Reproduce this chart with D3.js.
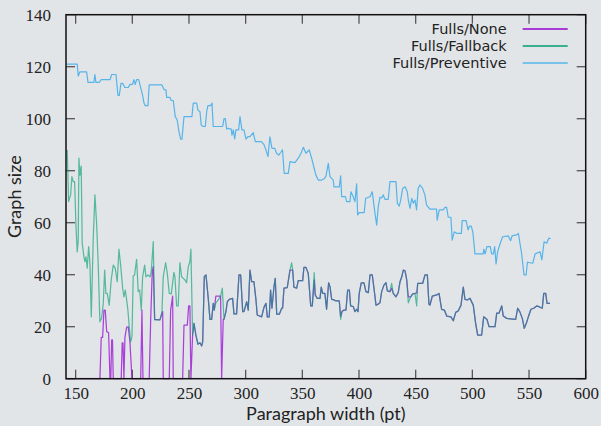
<!DOCTYPE html>
<html><head><meta charset="utf-8">
<script src="https://cdn.jsdelivr.net/npm/d3@7"></script>
<style>
html,body{margin:0;padding:0;background:#e2e5e8;}
svg{display:block;}
</style></head>
<body>
<svg id="chart" width="601" height="426"></svg>
<script>
// ---- data ----
const xDomain = [141.5, 600];
const yDomain = [0, 140];
const xTicks = [150, 200, 250, 300, 350, 400, 450, 500, 550, 600];
const yTicks = [0, 20, 40, 60, 80, 100, 120, 140];
const seriesNames = ["Fulls/None", "Fulls/Fallback", "Fulls/Preventive"];

const nonePts = [
[142,0],[171.4,0],[172.6,15.9],[173.8,15.9],[175,26.4],[176.1,26.4],[177.4,18.1],[179.1,17.7],[180.3,0],[181,0],[181.8,14.9],[182.5,14.9],[183.2,0],
[190.2,0],[191.1,13.8],[191.8,13.8],[192.6,0],[193.5,15.9],[195,19.8],[196.4,20],[197.9,14.2],[199.7,0],[207.4,0],[208.5,26.4],[209.4,0],[214.9,0],
[216.2,22.6],[217.6,41.2],[218.5,43.1],[219.7,22.8],[224.4,22.6],[226.1,25.2],[226.8,25.8],[227.3,0],[232.6,0],[233.8,26.4],[235.6,31.8],[236.1,0],
[244.4,0],[245.6,20.6],[248.5,20.6],[249.7,28],[250.8,28],[251.7,0],[253.2,16.8],[254.4,21.3],[256.1,16.8],[257.9,13.3],[259.7,13.8],[261.2,12.6],
[262.1,14.2],[263.5,39.2],[265,39.9],[267,30.9],[268.5,22.8],[270,22.8],[271.4,29],[272.3,26.4],[273.7,31.8],[277.9,31.8],[278.8,0],[280.2,22.8],
[280.9,22.8],[282.6,25.8],[283.8,29.6],[285.5,30.5],[288.5,30.9],[289.7,24.9],[292,24.9],[294.1,39.9],[295.6,39.9],[297.4,25.8],[298.5,25.8],
[300.9,29.6],[302.3,26.4],[303.8,41.8],[305.3,37.3],[307.3,37.3],[309.1,30.3],[310.2,24.5],[314.1,23.8],[316.2,27.5],[317.9,29],[319.1,23.8],
[320.8,23.8],[322,34.1],[323.2,27.1],[325,35.4],[326.1,38.6],[327.4,24.8],[329.7,24.8],[331.8,27.1],[332.6,27.1],[333.8,34.8],[336.7,35],
[339.1,41.8],[340.6,41.8],[341.5,41.8],[342.6,35.2],[345,34.8],[346.4,37.7],[350.3,37.7],[351.4,42.8],[353.2,42.8],[355.2,40.5],[356.1,35.4],
[357.4,28],[358.8,28],[360.5,38],[361.4,32.2],[363.2,30.9],[365.6,30.9],[366.7,35.2],[367.9,32.8],[369.9,32.8],[371.4,26.7],[373.2,36.9],
[374.4,35.4],[375.9,30.5],[377.9,30.3],[379.7,29.9],[382.6,29.9],[383.8,24],[385,25.8],[386.8,26.4],[388.5,26.4],[390,34.1],[391.5,34.1],
[392.6,28],[395,27.7],[396.4,25.8],[397.9,26.7],[399.1,25.8],[400.2,32.8],[402,36.9],[404.4,36.9],[406.1,33.5],[408.2,33.1],[409.7,39.9],
[411.7,39.9],[413.2,34.8],[415,28.3],[417,28.7],[418.5,29.2],[420,33.5],[422,36],[423.8,36.9],[425,33.8],[427.3,33.5],[428.8,34.8],[430.2,32.8],
[432.6,31.5],[434.6,33.1],[436.2,37.3],[437.7,39.2],[439.1,41.8],[440.6,41.5],[442.1,38],[443.5,31.5],[445.6,31.5],[447.4,32.6],[449.4,32.8],
[450.9,33],[451.8,36.7],[456.2,36.7],[458.2,39.9],[460.3,39.9],[461.7,28.6],[462.6,28.3],[464.7,31.8],[468.5,32.2],[470.6,32.8],[472.9,26.7],
[475.3,26.4],[477.4,24.1],[481.1,23.8],[483.2,22.3],[485.3,25.5],[487.6,26.1],[490,28.3],[492,35.2],[493.5,30.5],[495.5,30.3],[497.9,30.9],
[500.8,28.3],[502.9,21.3],[504.7,16.8],[508.2,16.8],[510,23.8],[512.9,22.8],[514.7,20],[520,20],[521.5,25.2],[523.5,25.2],[525.9,28],[527.3,24.1],
[530.3,23.2],[538.2,22.8],[540,27.1],[541.8,25.8],[544.1,23.2],[545.8,19.4],[547.6,21.3],[549.4,23.8],[551.7,26.7],[554.1,27.1],[556.8,28],
[559.7,27.5],[561.7,27.1],[563,32.8],[564.7,32.8],[565.9,29],[568.5,29]
];

const fallbackPts = [
[142.6,88],[143.8,68.1],[145.6,70.7],[146.7,77.7],[147.9,75.8],[149.1,75.8],[150.3,58.5],[151.4,48.8],[152.3,53.3],[152.9,84.8],[153.8,78.3],
[154.9,81.8],[155.8,52.1],[157.3,46.9],[158.2,45],[159.1,46.9],[160.2,42.5],[161.5,50.8],[162.6,44.4],[163.8,23.8],[165.5,53.3],[167,70.7],
[168.5,59.8],[170,43.1],[171.4,21.9],[172.9,23.2],[174.4,29],[175.6,41.8],[176.7,32.8],[177.9,32.8],[179.6,28.3],[181.4,38],[183.2,43.7],
[184.9,42.5],[186.7,37.3],[188.2,49.8],[189.7,43.7],[191.5,34.8],[192.6,31.5],[193.8,34.1],[195,30.3],[196.1,26.4],[197.3,20],[198.5,14.2],
[199.7,16.2],[200.8,39.5],[202,39.9],[203.8,45.9],[205.2,33.5],[206.5,34.1],[207.9,26.4],[209.1,39.2],[210.9,43.7],[212,39.2],[213.8,39.9],
[215.6,39.2],[216.7,41.2],[218.5,52.7],[219.7,22.6],[224.4,22.6],[226.1,25.2],[227.3,39.2],[229.4,44.6],[230.8,40.8],[232.6,32.8],[234.4,32.6],
[236.7,40.9],[237.6,39.2],[239.1,28],[240.5,28],[242,44.6],[243.5,39.2],[246.4,38],[247.9,36.9],[249.4,43.1],[250.8,45],[251.7,49.8],[253.2,16.8],
[254.4,21.3],[256.1,16.8],[257.9,13.3],[259.7,13.8],[261.2,12.6],[262.1,14.2],[263.5,39.2],[265,39.9],[267,30.9],[268.5,22.8],[270,22.8],
[271.4,29],[272.3,26.4],[273.5,29],[275.8,30.3],[277.9,31.8],[279.4,34.8],[280.9,22.8],[282.6,25.8],[283.8,29.6],[285.5,30.5],[288.5,30.9],
[289.7,24.9],[292,24.9],[294.1,39.9],[295.6,39.9],[297.4,25.8],[298.5,25.8],[300.9,29.6],[302.3,26.4],[303.8,41.8],[305.3,37.3],[307.3,37.3],
[309.1,30.3],[310.2,24.5],[314.1,23.8],[316.2,27.5],[317.9,29],[319.1,23.8],[320.8,23.8],[322,34.1],[323.2,27.1],[325,35.4],[326.1,38.6],
[327.4,24.8],[329.7,24.8],[331.8,27.1],[332.6,27.1],[333.8,34.8],[336.7,35],[339.1,41.8],[340.6,44.6],[341.5,41.8],[342.6,35.2],[345,34.8],
[346.4,37.7],[350.3,37.7],[351.4,42.8],[353.2,42.8],[355.2,40.5],[356.1,35.4],[357.4,28],[358.8,28],[360.5,40.8],[361.4,32.2],[363.2,30.9],
[365.6,30.9],[366.7,35.2],[367.9,32.8],[369.9,32.8],[371.4,26.7],[373.2,36.9],[374.4,35.4],[375.9,30.5],[377.9,30.3],[379.7,29.9],[382.6,29.9],
[383.8,22.8],[385,25.8],[386.8,26.4],[388.5,26.4],[390,34.1],[391.5,34.1],[392.6,28],[395,27.7],[396.4,25.8],[397.9,26.7],[399.1,25.8],
[400.2,32.8],[402,36.9],[404.4,36.9],[406.1,33.5],[408.2,33.1],[409.7,39.9],[411.7,39.9],[413.2,34.8],[415,28.3],[417,28.7],[418.5,29.2],
[420,33.5],[422,36],[423.8,36.9],[425,33.8],[427.3,33.5],[428.8,36.7],[430.2,32.8],[432.6,31.5],[434.6,33.1],[436.2,37.3],[437.7,39.2],
[439.1,41.8],[440.6,41.5],[442.1,38],[443.5,29.2],[445.6,31.5],[447.4,32.6],[449.4,32.8],[450.9,28],[451.8,36.7],[456.2,36.7],[458.2,39.9],
[460.3,39.9],[461.7,28.6],[462.6,28.3],[464.7,31.8],[468.5,32.2],[470.6,32.8],[472.9,26.7],[475.3,26.4],[477.4,24.1],[481.1,23.8],[483.2,22.3],
[485.3,25.5],[487.6,26.1],[490,28.3],[492,35.2],[493.5,30.5],[495.5,30.3],[497.9,30.9],[500.8,28.3],[502.9,21.3],[504.7,16.8],[508.2,16.8],
[510,23.8],[512.9,22.8],[514.7,20],[520,20],[521.5,25.2],[523.5,25.2],[525.9,28],[527.3,24.1],[530.3,23.2],[538.2,22.8],[540,27.1],[541.8,25.8],
[544.1,23.2],[545.8,19.4],[547.6,21.3],[549.4,23.8],[551.7,26.7],[554.1,27.1],[556.8,28],[559.7,27.5],[561.7,27.1],[563,32.8],[564.7,32.8],
[565.9,29],[568.5,29]
];

const preventivePts = [
[142,121],[151.4,121],[152.3,116.4],[153.8,118],[159.7,118],[160.9,114],[166.1,114],[167,117],[167.9,114],[170.8,114],[172.6,115],[180.3,115],
[181.8,117],[185.6,117],[187.3,109],[188.5,109],[190,113.6],[191.5,113.6],[193.5,112],[196.4,112],[198,113.2],[200.3,113.2],[201.4,115],
[202.6,113.2],[203.8,115],[205.6,115],[206.7,113.2],[209.1,109],[210.3,106],[211.4,105],[213.8,105],[214.9,113],[226.1,113],[227.9,111.3],
[229.7,111],[230.3,108.2],[233.2,108.2],[234.3,107],[236.1,107],[237.9,100.8],[239.6,99.5],[240.9,95.7],[242.6,92.1],[243.8,92.1],[245.6,100.8],
[252.6,100.8],[253.8,106],[256.8,106],[257.9,103.3],[259.7,102.7],[260.8,97.6],[262.6,97],[264.4,97],[265.6,102.7],[266.7,105],[269.1,105],
[270.3,106],[271.4,97],[279.7,97],[280.9,100],[282,100],[283.3,96],[284.4,96.3],[287.3,96],[287.9,93.7],[289.1,95.7],[290.3,92.2],[291.4,95.7],
[293.8,95.7],[295,100.8],[296.7,95.7],[298.5,95.7],[300.3,92.1],[302,93.1],[303.8,93.1],[306.7,94.6],[308.5,91.2],[313.8,91.2],[316.2,90],
[317.9,88],[319.7,85.4],[321.4,93],[323.2,88.6],[325.6,88.6],[327.3,86.7],[329.1,86],[330.9,87],[332.5,88],[334,79],[337.6,79],[339.1,83.5],
[343.5,83.1],[347.3,85.4],[349.4,87.3],[350.9,89],[353.2,86.7],[356.1,88],[358.2,84.8],[359.7,82.2],[362,78.3],[364.1,76.4],[367.1,76.4],
[369.5,77],[370.9,78],[372.9,82.8],[374.4,77.7],[377.3,76.4],[377.9,73.8],[382.6,73.8],[383.8,78],[384.7,70],[388,70],[389.1,68.1],[392,68.1],
[392.9,71.9],[394.9,70],[396.4,68.1],[397.9,74.9],[398.8,63],[400.2,63.9],[404.6,63.9],[405.9,69.4],[409.7,70],[411.7,71.9],[412.6,68.7],
[414.1,63.6],[415.6,59.1],[417,66.2],[418.5,69.8],[420,69.5],[421.4,70.7],[422.9,69],[425.8,69],[427.3,75.8],[432.6,75.8],[433.8,67.5],
[435.5,66.4],[436.8,68.7],[438.5,73.2],[440.6,73.8],[442.6,71.9],[443.5,68.7],[445,65.5],[446.5,69.4],[447.9,67.5],[449.4,68.7],[450.8,64.9],
[452.2,73.2],[453.8,74.5],[456.1,73.2],[458.1,70.7],[459.6,66.8],[462.6,65.2],[468.4,65.2],[469,61],[470.8,64.9],[474.3,64.9],[475.8,65.9],
[477.3,65.9],[478.7,62.1],[481.1,62.1],[482.2,53.3],[484,56.5],[486.1,55.9],[490.3,55.9],[491,60.8],[494.5,60.8],[496.2,57.2],[497.5,58.7],
[499,58.7],[500.4,56.5],[502.3,48],[509.6,48],[510.1,49.8],[511.3,48],[512.8,50.8],[515.8,50.8],[517,48],[518.5,48],[519.7,50.8],[520.9,44.1],
[522.3,48.8],[524.4,51.8],[526.7,54.6],[531.7,54.9],[533.8,53.1],[535,54.9],[539.1,55.3],[540.6,55.9],[542,52.1],[543.5,48],[545.6,39.9],
[547.4,39.9],[548.6,44.8],[553.3,44.4],[555.4,48],[559.8,48.8],[561.3,45.7],[563.3,52.7],[565.6,52.1],[567.4,54],[569.1,54]
];

const colors = ["#9400d3", "#009e73", "#56b4e9"];

// ---- chart ----
(function () {
const svg = d3.select("#chart");
const W = 601, H = 426;
const mLeft = 66, mRight = 585.7, mTop = 14.7, mBottom = 378.7;

svg.append("rect").attr("width", W).attr("height", H).attr("fill", "#e2e5e8");

const x = d3.scaleLinear().domain(xDomain).range([mLeft, mRight]);
const y = d3.scaleLinear().domain(yDomain).range([mBottom, mTop]);

const serif = "'Liberation Serif', 'DejaVu Serif', serif";
const sans = "Lato, 'Open Sans', sans-serif";
const legendFont = "'DejaVu Sans', sans-serif";
const tickLen = 9;

const tg = svg.append("g").attr("stroke", "#555").attr("stroke-width", 1.3);
xTicks.forEach(t => {
  tg.append("line").attr("x1", x(t)).attr("x2", x(t)).attr("y1", mBottom).attr("y2", mBottom - tickLen);
  tg.append("line").attr("x1", x(t)).attr("x2", x(t)).attr("y1", mTop).attr("y2", mTop + tickLen);
});
yTicks.forEach(t => {
  tg.append("line").attr("x1", mLeft).attr("x2", mLeft + tickLen).attr("y1", y(t)).attr("y2", y(t));
  tg.append("line").attr("x1", mRight).attr("x2", mRight - tickLen).attr("y1", y(t)).attr("y2", y(t));
});

const xAxis = d3.axisBottom(x).tickValues(xTicks).tickSize(0).tickPadding(8).tickFormat(d3.format("d"));
const gx = svg.append("g").attr("transform", `translate(0,${mBottom})`).call(xAxis);
gx.select(".domain").remove();
gx.selectAll("text").attr("font-family", serif).attr("font-size", 17).attr("fill", "#222");

const yAxis = d3.axisLeft(y).tickValues(yTicks).tickSize(0).tickPadding(15).tickFormat(d3.format("d"));
const gy = svg.append("g").attr("transform", `translate(${mLeft},0)`).call(yAxis);
gy.select(".domain").remove();
gy.selectAll("text").attr("font-family", serif).attr("font-size", 17).attr("fill", "#222");

const line = d3.line().x(d => x(d[0])).y(d => y(d[1]));
const plot = svg.append("g");
plot.append("path").datum(nonePts).attr("d", line).attr("fill", "none")
  .attr("stroke", colors[0]).attr("stroke-width", 1.25).attr("stroke-opacity", 0.72).attr("stroke-linejoin", "round");
plot.append("path").datum(fallbackPts).attr("d", line).attr("fill", "none")
  .attr("stroke", colors[1]).attr("stroke-width", 1.25).attr("stroke-opacity", 0.62).attr("stroke-linejoin", "round");
plot.append("path").datum(preventivePts).attr("d", line).attr("fill", "none")
  .attr("stroke", colors[2]).attr("stroke-width", 1.2).attr("stroke-linejoin", "round");

svg.append("rect").attr("x", mLeft).attr("y", mTop).attr("width", mRight - mLeft).attr("height", mBottom - mTop)
  .attr("fill", "none").attr("stroke", "#111").attr("stroke-width", 1.5);

svg.append("text").attr("x", (mLeft + mRight) / 2).attr("y", 420).attr("text-anchor", "middle")
  .attr("font-family", sans).attr("font-size", 18).attr("fill", "#222").text("Paragraph width (pt)");
svg.append("text").attr("transform", `translate(21,${(mTop + mBottom) / 2}) rotate(-90)`).attr("text-anchor", "middle")
  .attr("font-family", sans).attr("font-size", 18).attr("fill", "#222").text("Graph size");

const legY = [29, 46, 63];
seriesNames.forEach((name, i) => {
  svg.append("text").attr("x", 506.7).attr("y", legY[i] + 5).attr("text-anchor", "end")
    .attr("font-family", legendFont).attr("font-size", 14.5).attr("fill", "#222").text(name);
  svg.append("line").attr("x1", 522.7).attr("x2", 567.7).attr("y1", legY[i]).attr("y2", legY[i])
    .attr("stroke", colors[i]).attr("stroke-width", 1.3);
});
})();
</script>
</body></html>
